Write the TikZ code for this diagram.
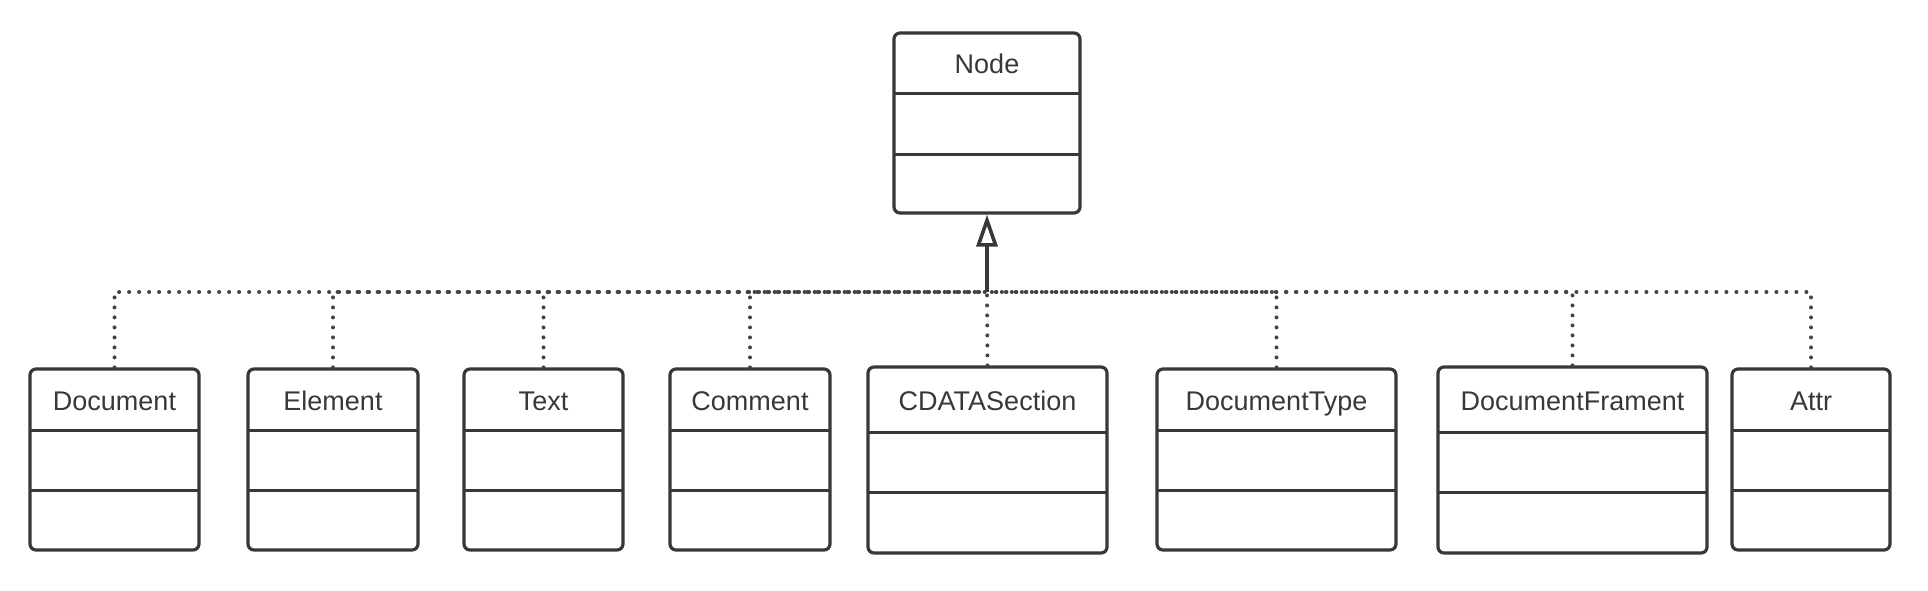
\documentclass[tikz,border=0pt]{standalone}
\usepackage{fontspec}
\setmainfont{Liberation Sans}
\usetikzlibrary{arrows.meta,fit}
\definecolor{ink}{HTML}{383838}
\definecolor{dotc}{HTML}{444444}
\tikzset{
  box/.style={draw=ink, line width=1.6pt, rounded corners=3pt, inner sep=0pt, fill=white},
  divider/.style={draw=ink, line width=1.5pt},
  lbl/.style={text=ink, font=\fontsize{13.5pt}{15pt}\selectfont, inner sep=0pt, anchor=base},
  conn/.style={draw=dotc, line width=2pt, line cap=round, dash pattern=on 0pt off 5pt},
  gen/.style={draw=ink, line width=2pt, -{Triangle[open, length=16pt, width=10.5pt, line width=1.8pt]}}
}
\newcommand{\umlclass}[8]{%
  \node[box, fit={(#2,#4) (#3,#7)}] (#1) {};
  \draw[divider] (#2,#5) -- (#3,#5);
  \draw[divider] (#2,#6) -- (#3,#6);
  \node[lbl] at ({(#2+#3)/2},{(#4+#5)/2+10.5}) {#8};
}
\begin{document}
\begin{tikzpicture}[x=0.5pt, y=-0.5pt]
\useasboundingbox (0,0) rectangle (1928,590);
\coordinate (J) at (987,292);
\umlclass{node}{894}{1080}{33}{93}{154}{213}{Node}
\umlclass{doc}{30}{199}{369}{430}{490}{550}{Document}
\umlclass{elem}{248}{418}{369}{430}{490}{550}{Element}
\umlclass{text}{464}{623}{369}{430}{490}{550}{Text}
\umlclass{comm}{670}{830}{369}{430}{490}{550}{Comment}
\umlclass{cdata}{868}{1107}{367}{432}{492}{553}{CDATASection}
\umlclass{dtype}{1157}{1396}{369}{430}{490}{550}{DocumentType}
\umlclass{dfrag}{1438}{1707}{367}{432}{492}{553}{DocumentFrament}
\umlclass{attr}{1732}{1890}{369}{430}{490}{550}{Attr}
\draw[conn] (doc.north) |- (J);
\draw[conn] (elem.north) |- (J);
\draw[conn] (text.north) |- (J);
\draw[conn] (comm.north) |- (J);
\draw[conn] (cdata.north) -- (J);
\draw[conn] (dtype.north) |- (J);
\draw[conn] (dfrag.north) |- (J);
\draw[conn] (attr.north) |- (J);
\draw[gen] (J) -- (node.south);
\end{tikzpicture}
\end{document}
